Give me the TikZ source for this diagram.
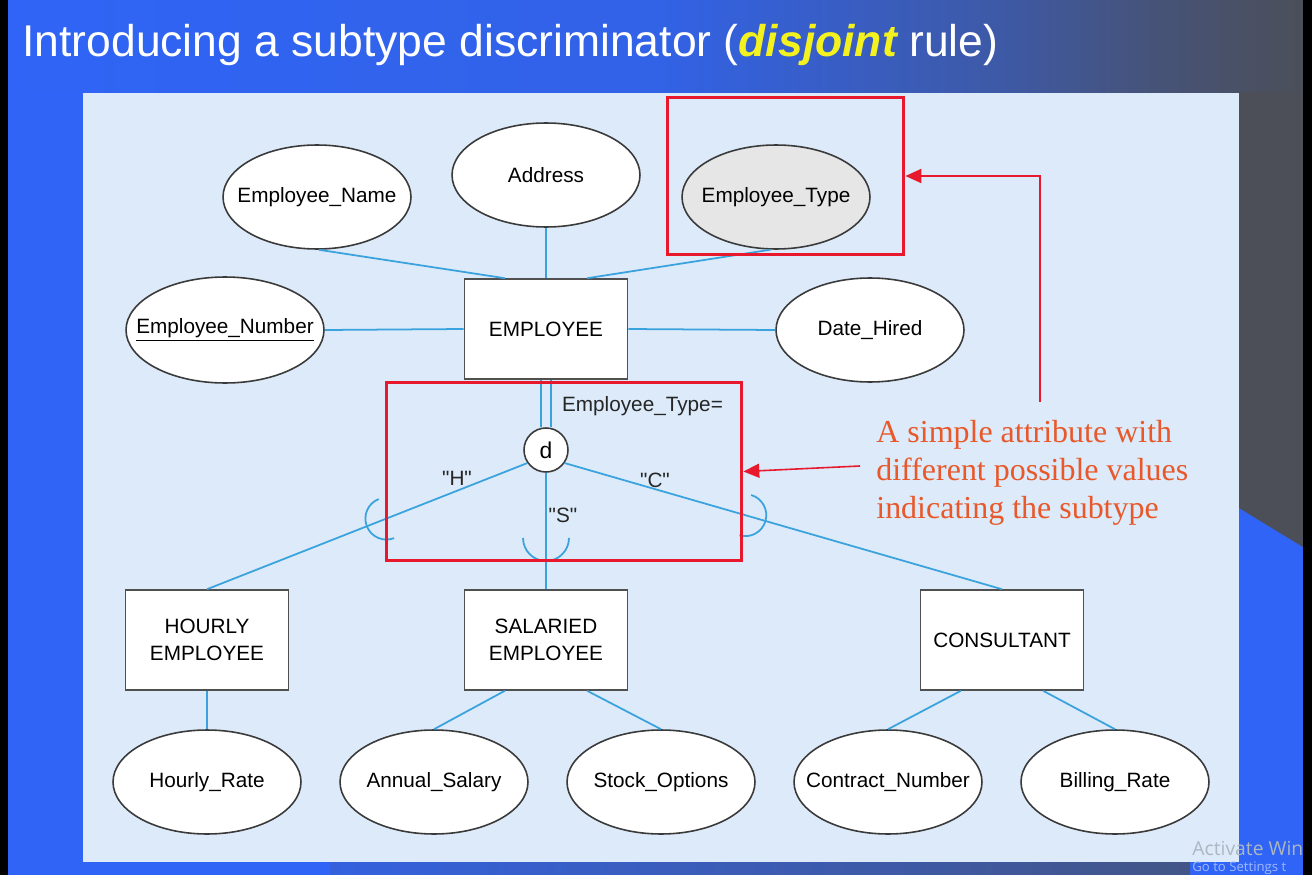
\documentclass[tikz,border=0pt]{standalone}
\usepackage{fontspec}
\setmainfont{Liberation Sans}
\newfontfamily\notefont{Liberation Serif}
\newfontfamily\osfont{Open Sans}
\newfontfamily\tagfont{Liberation Sans}[Ligatures=TeXOff]
\usetikzlibrary{shapes.geometric,arrows.meta,calc}

\definecolor{slideblue}{HTML}{2F64F6}
\definecolor{slidegrey}{HTML}{4C4F58}
\definecolor{panel}{HTML}{DCEAF9}
\definecolor{linkblue}{HTML}{3AA2DC}
\definecolor{outline}{HTML}{3A3A3A}
\definecolor{entline}{HTML}{505050}
\definecolor{markred}{HTML}{E8192C}
\definecolor{notered}{HTML}{E8582A}
\definecolor{titleyellow}{HTML}{F4F21E}
\definecolor{typegrey}{HTML}{E6E6E6}
\colorlet{bandA}{slideblue!90!slidegrey}
\colorlet{bandB}{slideblue!50!slidegrey}
\colorlet{bandC}{slideblue!20!slidegrey}

\pgfdeclarehorizontalshading{topband}{100bp}{%
  color(0bp)=(slideblue); color(25bp)=(slideblue); color(50bp)=(bandA);
  color(63bp)=(bandB); color(69bp)=(bandC); color(75bp)=(slidegrey);
  color(100bp)=(slidegrey)}

\newcommand\erfont{\fontsize{11.8}{15.3}\selectfont}
\newcommand\attrtext[1]{\makebox[0pt][c]{#1}}

\tikzset{
  attrib/.style={ellipse, draw=outline, line width=0.9pt, fill=white,
    minimum width=3.76cm, minimum height=2.08cm, inner sep=0pt, font=\erfont},
  entity/.style={rectangle, draw=entline, line width=0.9pt, fill=white,
    minimum width=3.26cm, minimum height=2cm, align=center, font=\erfont},
  link/.style={draw=linkblue, line width=1pt},
  cup/.style={draw=linkblue, line width=1pt},
  tag/.style={font=\erfont, text=black!85, inner sep=1pt},
  valtag/.style={font=\tagfont\erfont, text=black!85, inner sep=1pt},
  redbox/.style={draw=markred, line width=1.7pt, inner sep=0pt},
  notearrow/.style={draw=markred, line width=0.9pt,
    -{Triangle[length=9pt,width=8pt]}},
}

\begin{document}
\begin{tikzpicture}[x=0.02cm, y=-0.02cm]
\useasboundingbox (0,0) rectangle (1312,875);

% slide backdrop
\fill[slideblue] (0,0) rectangle (1312,875);
\shade[shading=topband] (0,0) rectangle (1312,93);
\fill[slidegrey] (1239,92) -- (1303,92) -- (1303,547) -- (1239,508) -- cycle;
\shade[left color=slideblue!85!slidegrey, right color=slidegrey!70!slideblue]
  (330,862) rectangle (1190,875);
\fill[panel] (83,93) rectangle (1239,862);

% system watermark in the lower right corner
\node[anchor=base west, inner sep=0pt, text=black!22!panel,
      font=\osfont\fontsize{11}{13}\selectfont] (wm1) at (1192,855)
      {Activate Win};
\node[anchor=base west, inner sep=0pt, text=white!55!slideblue,
      font=\osfont\fontsize{7.5}{9}\selectfont] (wm2) at (1192,871)
      {Go to Settings t};

% screen edges
\fill[black] (0,0) rectangle (8,875);
\fill[black] (1303,0) rectangle (1312,875);

% title
\node[anchor=base west, inner sep=0pt, text=white,
      font=\fontsize{25.3}{30}\selectfont] (title) at (22,57)
  {Introducing a subtype discriminator ({\color{titleyellow}\bfseries\itshape disjoint} rule)};

% supertype and its attributes
\node[entity] (emp) at (546,329) {EMPLOYEE};
\node[attrib] (ename) at (317,197) {\attrtext{Employee\_Name}};
\node[attrib] (addr) at (546,175) {\attrtext{Address}};
\node[attrib, fill=typegrey] (etype) at (776,197) {\attrtext{Employee\_Type}};
\node[attrib, minimum width=3.96cm, minimum height=2.12cm] (enum) at (225,330)
  {\attrtext{\underline{Employee\_Number}}};
\node[attrib] (dhired) at (870,330) {\attrtext{Date\_Hired}};

% disjointness circle
\node[circle, draw=outline, line width=0.9pt, fill=white, minimum size=0.88cm,
      inner sep=0pt, font=\fontsize{13}{15}\selectfont] (d) at (546,450) {d};

% subtypes
\node[entity] (hourly) at (207,640) {HOURLY\\EMPLOYEE};
\node[entity] (sal) at (546,640) {SALARIED\\EMPLOYEE};
\node[entity] (cons) at (1002,640) {CONSULTANT};

% subtype attributes
\node[attrib] (hrate) at (207,782) {\attrtext{Hourly\_Rate}};
\node[attrib] (asal) at (434,782) {\attrtext{Annual\_Salary}};
\node[attrib] (stock) at (661,782) {\attrtext{Stock\_Options}};
\node[attrib] (cnum) at (888,782) {\attrtext{Contract\_Number}};
\node[attrib] (brate) at (1115,782) {\attrtext{Billing\_Rate}};

% attribute links
\draw[link] (ename.-88) -- ($(emp.north west)!0.25!(emp.north east)$);
\draw[link] (addr.south) -- (emp.north);
\draw[link] (etype.-96) -- ($(emp.north west)!0.75!(emp.north east)$);
\draw[link] (enum.east) -- (emp.west);
\draw[link] (emp.east) -- (dhired.west);
\draw[link] (hourly.south) -- (hrate.north);
\draw[link] ($(sal.south west)!0.25!(sal.south east)$) -- (asal.north);
\draw[link] ($(sal.south west)!0.75!(sal.south east)$) -- (stock.north);
\draw[link] ($(cons.south west)!0.25!(cons.south east)$) -- (cnum.north);
\draw[link] ($(cons.south west)!0.75!(cons.south east)$) -- (brate.north);

% total participation and subtype links
\draw[link, double=panel, double distance=5pt] (emp.south) -- (d.north);
\draw[link] (d.-145) -- (hourly.north) coordinate[pos=0.44] (hcup);
\draw[link] (d.south) -- (sal.north) coordinate[pos=0.56] (scup);
\draw[link] (d.-35) -- (cons.north) coordinate[pos=0.413] (ccup);

% subset symbols on the subtype links
\draw[cup] (hcup) ++(111.6:0.42cm) arc[start angle=111.6, end angle=291.6, radius=0.42cm];
\draw[cup] (scup) ++(180:0.46cm) arc[start angle=180, end angle=360, radius=0.46cm];
\draw[cup] (ccup) ++(-106.2:0.42cm) arc[start angle=-106.2, end angle=73.8, radius=0.42cm];

% discriminator labels
\node[tag, anchor=west] (disc) at (560,406) {Employee\_Type=};
\node[valtag] (vh) at (457,478) {"H"};
\node[valtag] (vs) at (563,515) {"S"};
\node[valtag] (vc) at (655,480) {"C"};

% highlights and note
\node[redbox, minimum width=4.74cm, minimum height=3.16cm] (etbox) at (785.5,176) {};
\node[redbox, minimum width=7.12cm, minimum height=3.58cm] (dbox) at (564,471.5) {};
\node[anchor=north west, inner sep=0pt, align=left, text=notered,
      font=\notefont\fontsize{18.2}{21.6}\selectfont] (note) at (876,420)
  {A simple attribute with\\different possible values\\indicating the subtype};
\coordinate (n1) at (1040,402);
\coordinate (n2) at (860,466);
\draw[notearrow] (n1) |- (etbox.east);
\draw[notearrow] (n2) -- (dbox.east);
\end{tikzpicture}
\end{document}
